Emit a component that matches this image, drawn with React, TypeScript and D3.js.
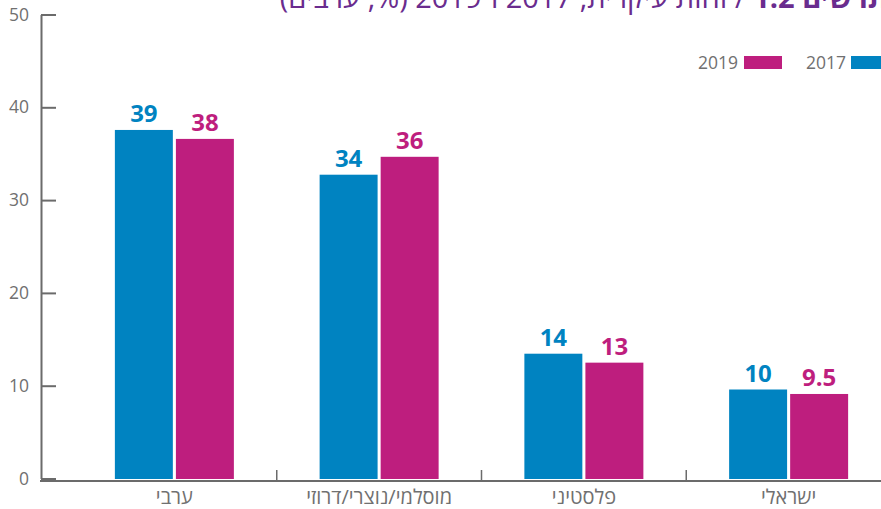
import { useEffect, useRef } from 'react';
import * as d3 from 'd3';

const categories = ['ערבי', 'מוסלמי/נוצרי/דרוזי', 'פלסטיני', 'ישראלי'];
const seriesNames = ['2017', '2019'];
const values2017 = [39, 34, 14, 10];
const values2019 = [38, 36, 13, 9.5];
const yTicks = [0, 10, 20, 30, 40, 50];
const titleBold = 'תרשים 1.2';
const titleRest = ' / זהות עיקרית, 2017 ו־2019 (%, ערבים)';

const colors: Record<string, string> = { '2017': '#0083c1', '2019': '#be1e7e' };

const width = 881;
const height = 509;

const App = () => {
  const containerRef = useRef<HTMLDivElement | null>(null);

  useEffect(() => {
    if (!containerRef.current) return;
    containerRef.current.innerHTML = '';

    const seriesValues: Record<string, number[]> = { '2017': values2017, '2019': values2019 };
    const axisColor = '#6b6b6b';
    const textColor = '#707070';
    const font = "'Open Sans', 'DejaVu Sans', sans-serif";

    const svg = d3
      .create('svg')
      .attr('width', width)
      .attr('height', height)
      .attr('viewBox', [0, 0, width, height])
      .attr('font-family', font)
      .style('display', 'block')
      .style('background', '#fff');

    // scales
    const yScale = d3.scaleLinear().domain([0, 50]).range([478.5, 14.5]);
    // bars in the source are drawn a little shorter than the axis implies
    const barScale = d3.scaleLinear().domain([0, 51.9]).range([479, 14.5]);
    const xScale = d3.scaleBand<string>().domain(categories).range([72, 891]).padding(0);
    const groupWidth = 119;
    const xSub = d3.scaleBand<string>().domain(seriesNames).range([0, groupWidth]).paddingInner(0.05);

    // title (cut off by the top edge, as in the source)
    svg
      .append('text')
      .attr('x', 888)
      .attr('y', 8)
      .attr('direction', 'rtl')
      .attr('text-anchor', 'start')
      .attr('font-size', 29)
      .attr('fill', '#6a2c8e')
      .call(t => t.append('tspan').attr('font-weight', 700).text(titleBold))
      .call(t => t.append('tspan').text(titleRest));

    // y axis
    const yAxis = d3
      .axisRight(yScale)
      .tickValues(yTicks)
      .tickSize(15)
      .tickSizeOuter(0)
      .tickFormat(d => String(d));

    svg
      .append('g')
      .attr('transform', 'translate(41,0)')
      .call(yAxis)
      .call(g => g.select('.domain').attr('stroke', axisColor).attr('stroke-width', 2))
      .call(g => g.selectAll('.tick line').attr('stroke', axisColor).attr('stroke-width', 2))
      .call(g =>
        g
          .selectAll('.tick text')
          .attr('x', -12)
          .attr('text-anchor', 'end')
          .attr('fill', textColor)
          .attr('font-size', 17.5)
          .attr('font-family', font),
      );

    // x axis line
    svg
      .append('line')
      .attr('x1', 40)
      .attr('x2', width)
      .attr('y1', 481)
      .attr('y2', 481)
      .attr('stroke', axisColor)
      .attr('stroke-width', 2);

    // separators between categories
    svg
      .append('g')
      .selectAll('line')
      .data(categories.slice(1))
      .join('line')
      .attr('x1', d => xScale(d) as number)
      .attr('x2', d => xScale(d) as number)
      .attr('y1', 481)
      .attr('y2', 470)
      .attr('stroke', axisColor)
      .attr('stroke-width', 1.5);

    // bars
    const groups = svg
      .append('g')
      .selectAll('g')
      .data(categories)
      .join('g')
      .attr('transform', d => {
        const cx = (xScale(d) as number) + xScale.bandwidth() / 2;
        return `translate(${cx - groupWidth / 2},0)`;
      });

    groups
      .selectAll('rect')
      .data((_, i) => seriesNames.map(s => ({ s, v: seriesValues[s][i] })))
      .join('rect')
      .attr('x', d => xSub(d.s) as number)
      .attr('width', xSub.bandwidth())
      .attr('y', d => barScale(d.v))
      .attr('height', d => barScale(0) - barScale(d.v))
      .attr('fill', d => colors[d.s]);

    groups
      .selectAll('text.val')
      .data((_, i) => seriesNames.map(s => ({ s, v: seriesValues[s][i] })))
      .join('text')
      .attr('class', 'val')
      .attr('x', d => (xSub(d.s) as number) + xSub.bandwidth() / 2)
      .attr('y', d => barScale(d.v) - 8)
      .attr('text-anchor', 'middle')
      .attr('font-size', 24)
      .attr('font-weight', 700)
      .attr('fill', d => colors[d.s])
      .text(d => String(d.v));

    // category labels
    svg
      .append('g')
      .selectAll('text')
      .data(categories)
      .join('text')
      .attr('x', d => (xScale(d) as number) + xScale.bandwidth() / 2)
      .attr('y', 504)
      .attr('text-anchor', 'middle')
      .attr('direction', 'rtl')
      .attr('font-size', 20)
      .attr('fill', textColor)
      .text(d => d);

    // legend
    const legend = [
      { s: '2019', textEnd: 738, swatchX: 744 },
      { s: '2017', textEnd: 846, swatchX: 851 },
    ];
    const lg = svg.append('g');
    lg.selectAll('rect')
      .data(legend)
      .join('rect')
      .attr('x', d => d.swatchX)
      .attr('y', 56)
      .attr('width', 38)
      .attr('height', 13)
      .attr('fill', d => colors[d.s]);
    lg.selectAll('text')
      .data(legend)
      .join('text')
      .attr('x', d => d.textEnd)
      .attr('y', 68.5)
      .attr('text-anchor', 'end')
      .attr('font-size', 17.5)
      .attr('fill', textColor)
      .text(d => d.s);

    containerRef.current.append(svg.node() as Node);
  }, []);

  return <div ref={containerRef} style={{ position: 'absolute', left: 0, top: 0 }} />;
};

export default App;
